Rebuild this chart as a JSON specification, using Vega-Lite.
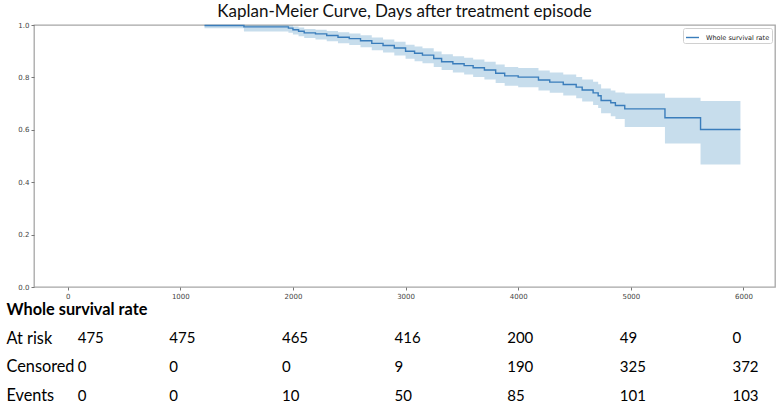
{
  "$schema": "https://vega.github.io/schema/vega-lite/v6.json",
  "padding": {"left": 6, "top": 2, "right": 5, "bottom": 0},
  "background": "white",
  "spacing": -1,
  "config": {
    "view": {"stroke": null},
    "axis": {"grid": false}
  },
  "datasets": {
    "km": [
      {"t": 1215, "s": 0.998, "lo": 0.988, "hi": 1.0},
      {"t": 1565, "s": 0.993, "lo": 0.975, "hi": 1.0},
      {"t": 1960, "s": 0.988, "lo": 0.970, "hi": 0.998},
      {"t": 2000, "s": 0.982, "lo": 0.964, "hi": 0.994},
      {"t": 2050, "s": 0.976, "lo": 0.957, "hi": 0.990},
      {"t": 2100, "s": 0.970, "lo": 0.950, "hi": 0.985},
      {"t": 2200, "s": 0.966, "lo": 0.945, "hi": 0.982},
      {"t": 2300, "s": 0.960, "lo": 0.938, "hi": 0.977},
      {"t": 2400, "s": 0.953, "lo": 0.930, "hi": 0.972},
      {"t": 2500, "s": 0.948, "lo": 0.924, "hi": 0.968},
      {"t": 2600, "s": 0.940, "lo": 0.915, "hi": 0.961},
      {"t": 2700, "s": 0.930, "lo": 0.904, "hi": 0.952},
      {"t": 2800, "s": 0.922, "lo": 0.895, "hi": 0.945},
      {"t": 2900, "s": 0.912, "lo": 0.884, "hi": 0.936},
      {"t": 3000, "s": 0.900, "lo": 0.871, "hi": 0.925},
      {"t": 3080, "s": 0.892, "lo": 0.862, "hi": 0.918},
      {"t": 3150, "s": 0.885, "lo": 0.854, "hi": 0.911},
      {"t": 3250, "s": 0.872, "lo": 0.840, "hi": 0.899},
      {"t": 3320, "s": 0.860, "lo": 0.828, "hi": 0.888},
      {"t": 3420, "s": 0.852, "lo": 0.819, "hi": 0.881},
      {"t": 3520, "s": 0.845, "lo": 0.811, "hi": 0.875},
      {"t": 3600, "s": 0.837, "lo": 0.802, "hi": 0.868},
      {"t": 3700, "s": 0.828, "lo": 0.792, "hi": 0.860},
      {"t": 3800, "s": 0.816, "lo": 0.779, "hi": 0.849},
      {"t": 3880, "s": 0.806, "lo": 0.768, "hi": 0.840},
      {"t": 4000, "s": 0.801, "lo": 0.762, "hi": 0.836},
      {"t": 4180, "s": 0.790, "lo": 0.750, "hi": 0.826},
      {"t": 4280, "s": 0.782, "lo": 0.741, "hi": 0.819},
      {"t": 4400, "s": 0.773, "lo": 0.731, "hi": 0.811},
      {"t": 4515, "s": 0.763, "lo": 0.720, "hi": 0.802},
      {"t": 4568, "s": 0.752, "lo": 0.708, "hi": 0.792},
      {"t": 4665, "s": 0.741, "lo": 0.695, "hi": 0.783},
      {"t": 4710, "s": 0.730, "lo": 0.683, "hi": 0.774},
      {"t": 4736, "s": 0.712, "lo": 0.663, "hi": 0.758},
      {"t": 4822, "s": 0.703, "lo": 0.652, "hi": 0.750},
      {"t": 4863, "s": 0.693, "lo": 0.641, "hi": 0.742},
      {"t": 4946, "s": 0.680, "lo": 0.611, "hi": 0.739},
      {"t": 5303, "s": 0.646, "lo": 0.548, "hi": 0.722},
      {"t": 5619, "s": 0.601, "lo": 0.468, "hi": 0.710},
      {"t": 5973, "s": 0.601, "lo": 0.468, "hi": 0.710}
    ],
    "table": [
      {"t": 0, "row": "At risk", "n": 475},
      {"t": 1000, "row": "At risk", "n": 475},
      {"t": 2000, "row": "At risk", "n": 465},
      {"t": 3000, "row": "At risk", "n": 416},
      {"t": 4000, "row": "At risk", "n": 200},
      {"t": 5000, "row": "At risk", "n": 49},
      {"t": 6000, "row": "At risk", "n": 0},
      {"t": 0, "row": "Censored", "n": 0},
      {"t": 1000, "row": "Censored", "n": 0},
      {"t": 2000, "row": "Censored", "n": 0},
      {"t": 3000, "row": "Censored", "n": 9},
      {"t": 4000, "row": "Censored", "n": 190},
      {"t": 5000, "row": "Censored", "n": 325},
      {"t": 6000, "row": "Censored", "n": 372},
      {"t": 0, "row": "Events", "n": 0},
      {"t": 1000, "row": "Events", "n": 0},
      {"t": 2000, "row": "Events", "n": 10},
      {"t": 3000, "row": "Events", "n": 50},
      {"t": 4000, "row": "Events", "n": 85},
      {"t": 5000, "row": "Events", "n": 101},
      {"t": 6000, "row": "Events", "n": 103}
    ]
  },
  "vconcat": [
    {
      "width": 741,
      "height": 262,
      "view": {"stroke": "#a6a6a6", "strokeWidth": 1.3},
      "title": {"text": "Kaplan-Meier Curve, Days after treatment episode", "frame": "group", "font": "Lato", "fontSize": 17, "fontWeight": "normal", "color": "#111", "offset": 0},
      "data": {"name": "km"},
      "encoding": {
        "x": {"field": "t", "type": "quantitative", "scale": {"domain": [-299, 6280], "nice": false, "zero": false},
          "axis": {"title": null, "values": [0, 1000, 2000, 3000, 4000, 5000, 6000], "format": "d", "domain": false, "tickColor": "#777", "tickSize": 3, "labelPadding": 2, "labelFont": "DejaVu Sans", "labelFontSize": 7, "labelColor": "#444"}},
        "y": {"type": "quantitative"}
      },
      "layer": [
        {
          "mark": {"type": "area", "interpolate": "step-after", "color": "#1f77b4", "opacity": 0.25},
          "encoding": {
            "y": {"field": "lo", "type": "quantitative", "scale": {"domain": [0, 1], "nice": false},
              "axis": {"title": null, "values": [0, 0.2, 0.4, 0.6, 0.8, 1.0], "format": ".1f", "domain": false, "tickColor": "#777", "tickSize": 3, "labelPadding": 2, "labelFont": "DejaVu Sans", "labelFontSize": 7, "labelColor": "#444"}},
            "y2": {"field": "hi"}
          }
        },
        {
          "mark": {"type": "line", "interpolate": "step-after", "strokeWidth": 1.4},
          "encoding": {
            "y": {"field": "s", "type": "quantitative"},
            "color": {"datum": "Whole survival rate", "type": "nominal", "scale": {"range": ["#3a7dbb"]},
              "legend": {"title": null, "orient": "top-right", "offset": 3, "padding": 2, "symbolType": "stroke", "symbolSize": 170, "symbolStrokeWidth": 1.4, "labelFont": "DejaVu Sans", "labelFontSize": 6.5, "labelColor": "#222", "labelOffset": 6, "strokeColor": "#d0d0d0", "fillColor": "white", "cornerRadius": 2}}
          }
        }
      ]
    },
    {
      "width": 741,
      "height": 105,
      "data": {"name": "table"},
      "encoding": {
        "x": {"field": "t", "type": "quantitative", "scale": {"domain": [-299, 6280], "nice": false, "zero": false}, "axis": null},
        "y": {"field": "row", "type": "nominal",
          "scale": {"type": "point", "domain": ["Whole survival rate", "At risk", "Censored", "Events"], "padding": 0.33},
          "axis": {"title": null, "domain": false, "ticks": false, "labelAlign": "left", "labelPadding": 28, "labelFont": "Lato", "labelFontSize": 16.3, "labelColor": "#000",
            "labelFontWeight": {"condition": {"test": "datum.value == 'Whole survival rate'", "value": "bold"}, "value": "normal"}}},
        "text": {"field": "n", "type": "quantitative"}
      },
      "layer": [
        {
          "transform": [{"filter": "datum.t > 0"}],
          "mark": {"type": "text", "align": "left", "baseline": "middle", "dx": -11, "font": "Lato", "fontSize": 15, "color": "#000"}
        },
        {
          "transform": [{"filter": "datum.t == 0"}],
          "mark": {"type": "text", "align": "left", "baseline": "middle", "dx": 10, "font": "Lato", "fontSize": 15, "color": "#000"}
        }
      ]
    }
  ]
}
